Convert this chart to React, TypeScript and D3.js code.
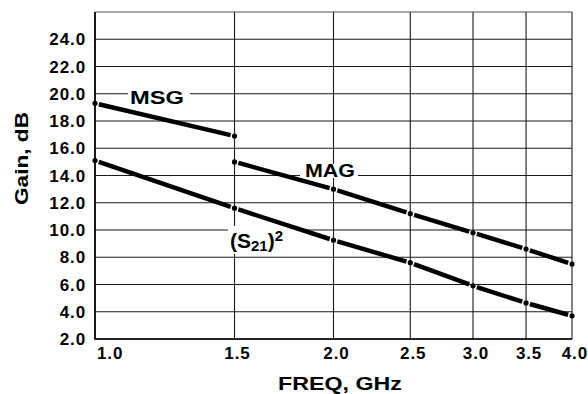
import React, { useRef, useEffect } from "react";
import * as d3 from "d3";

// frequency ticks (GHz) and gain ticks (dB)
const freqTicks = [1.0, 1.5, 2.0, 2.5, 3.0, 3.5, 4.0];
const gainTicks = [2, 4, 6, 8, 10, 12, 14, 16, 18, 20, 22, 24];

// MSG curve
const msgFreq = [1.0, 1.5];
const msgGain = [19.3, 16.9];

// MAG curve
const magFreq = [1.5, 2.0, 2.5, 3.0, 3.5, 4.0];
const magGain = [15.0, 13.0, 11.2, 9.8, 8.6, 7.5];

// |S21|^2 curve
const s21Freq = [1.0, 1.5, 2.0, 2.5, 3.0, 3.5, 4.0];
const s21Gain = [15.1, 11.6, 9.25, 7.6, 5.9, 4.65, 3.7];

const FONT = "'Liberation Sans', Arial, Helvetica, sans-serif";

export default function App() {
  const svgRef = useRef<SVGSVGElement>(null);

  useEffect(() => {
    const svg = d3.select(svgRef.current);
    svg.selectAll("*").remove();

    const width = 588;
    const height = 394;
    const margin = { top: 12, right: 16, bottom: 55, left: 95 };

    const x = d3
      .scaleLog()
      .domain([1, 4])
      .range([margin.left, width - margin.right]);
    const y = d3
      .scaleLinear()
      .domain([2, 26])
      .range([height - margin.bottom, margin.top]);

    svg.append("rect").attr("width", width).attr("height", height).attr("fill", "#fff");

    // grid
    const grid = svg.append("g").attr("stroke", "#1a1a1a").attr("stroke-width", 1.1);
    freqTicks.forEach((f) => {
      grid
        .append("line")
        .attr("x1", x(f))
        .attr("x2", x(f))
        .attr("y1", y(2))
        .attr("y2", y(26));
    });
    [...gainTicks, 26].forEach((g) => {
      grid
        .append("line")
        .attr("x1", x(1))
        .attr("x2", x(4))
        .attr("y1", y(g))
        .attr("y2", y(g))
        .attr("stroke", g === 26 ? "#555" : null);
    });
    // heavier left and bottom frame
    svg
      .append("path")
      .attr("d", `M${x(1)},${y(26)}V${y(2)}H${x(4)}`)
      .attr("fill", "none")
      .attr("stroke", "#000")
      .attr("stroke-width", 1.6);

    // label backgrounds that break the grid
    const labelBoxes = [
      { x0: 128, x1: 190, y0: 86, y1: 103 },
      { x0: 300, x1: 358, y0: 164, y1: 178 },
      { x0: 228, x1: 298, y0: 226, y1: 254 },
    ];
    labelBoxes.forEach((b) => {
      svg
        .append("rect")
        .attr("x", b.x0)
        .attr("y", b.y0)
        .attr("width", b.x1 - b.x0)
        .attr("height", b.y1 - b.y0)
        .attr("fill", "#fff");
    });

    // curves: thick segments with small gaps at each data point
    const curves = [
      { f: msgFreq, g: msgGain },
      { f: magFreq, g: magGain },
      { f: s21Freq, g: s21Gain },
    ];
    const gap = 4;
    curves.forEach((c) => {
      const pts = c.f.map((f, i) => [x(f), y(c.g[i])]);
      for (let i = 0; i < pts.length - 1; i++) {
        const [ax, ay] = pts[i];
        const [bx, by] = pts[i + 1];
        const len = Math.hypot(bx - ax, by - ay);
        const ux = (bx - ax) / len;
        const uy = (by - ay) / len;
        svg
          .append("line")
          .attr("x1", ax + ux * gap)
          .attr("y1", ay + uy * gap)
          .attr("x2", bx - ux * gap)
          .attr("y2", by - uy * gap)
          .attr("stroke", "#000")
          .attr("stroke-width", 4.5);
      }
      pts.forEach(([px, py]) => {
        svg.append("circle").attr("cx", px).attr("cy", py).attr("r", 2.6).attr("fill", "#000");
      });
    });

    // y tick labels
    const yt = svg
      .append("g")
      .attr("font-family", FONT)
      .attr("font-weight", "bold")
      .attr("font-size", 17)
      .attr("letter-spacing", 0.9)
      .attr("fill", "#000");
    gainTicks.forEach((g) => {
      yt.append("text")
        .attr("x", 86)
        .attr("y", y(g))
        .attr("dy", "0.36em")
        .attr("text-anchor", "end")
        .text(d3.format(".1f")(g));
    });

    // x tick labels
    const xt = svg
      .append("g")
      .attr("font-family", FONT)
      .attr("font-weight", "bold")
      .attr("font-size", 17)
      .attr("letter-spacing", 0.9)
      .attr("fill", "#000");
    freqTicks.forEach((f, i) => {
      const anchor = i === 0 ? "start" : i === freqTicks.length - 1 ? "end" : "middle";
      const px = i === 0 ? x(f) + 2 : i === freqTicks.length - 1 ? 588 : x(f) + 3;
      xt.append("text")
        .attr("x", px)
        .attr("y", 359)
        .attr("text-anchor", anchor)
        .text(d3.format(".1f")(f));
    });

    // axis titles
    svg
      .append("text")
      .attr("x", 278)
      .attr("y", 390)
      .attr("font-family", FONT)
      .attr("font-weight", "bold")
      .attr("font-size", 18.5)
      .attr("textLength", 124)
      .attr("lengthAdjust", "spacingAndGlyphs")
      .text("FREQ, GHz");

    svg
      .append("text")
      .attr("transform", `translate(28,205) rotate(-90)`)
      .attr("font-family", FONT)
      .attr("font-weight", "bold")
      .attr("font-size", 18)
      .attr("textLength", 93)
      .attr("lengthAdjust", "spacingAndGlyphs")
      .text("Gain, dB");

    // curve labels
    const lbl = svg
      .append("g")
      .attr("font-family", FONT)
      .attr("font-weight", "bold")
      .attr("fill", "#000");
    lbl.append("text")
      .attr("x", 130)
      .attr("y", 104)
      .attr("font-size", 19)
      .attr("textLength", 54)
      .attr("lengthAdjust", "spacingAndGlyphs")
      .text("MSG");
    lbl.append("text")
      .attr("x", 305)
      .attr("y", 177)
      .attr("font-size", 19)
      .attr("textLength", 50)
      .attr("lengthAdjust", "spacingAndGlyphs")
      .text("MAG");
    const s = lbl.append("text").attr("x", 230).attr("y", 248).attr("font-size", 21);
    s.append("tspan").text("(S");
    s.append("tspan").attr("font-size", 15).attr("dy", 3).text("21");
    s.append("tspan").attr("dy", -3).text(")");
    s.append("tspan").attr("font-size", 15).attr("dy", -7).text("2");
  }, []);

  return (
    <svg
      ref={svgRef}
      width={588}
      height={394}
      style={{ position: "absolute", left: 0, top: 0, display: "block" }}
    />
  );
}
